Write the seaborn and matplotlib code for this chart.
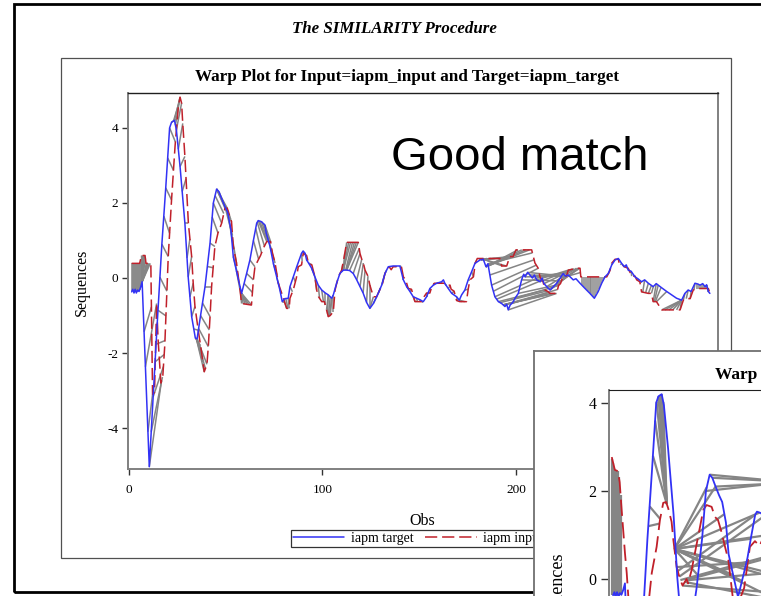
import numpy as np
import pandas as pd
import matplotlib
matplotlib.use("Agg")
import matplotlib.pyplot as plt
from matplotlib.collections import LineCollection
from matplotlib.patches import Rectangle
import seaborn as sns

# ---------------- data ----------------
target_obs = [1.4, 2.0, 2.6, 3.2, 3.8, 4.5, 5.2, 6.0, 6.8, 10.5, 14.5, 17.0, 19.0, 21.0, 22.0, 23.5, 24.5,
              26.4, 28.9, 30.6, 32.4, 34.3, 35.2, 37.0, 39.3, 41.9, 43.6, 45.3, 46.5, 48.0, 49.6, 51.0,
              52.7, 53.9, 55.5, 58.2, 60.8, 62.5, 64.3, 66.0, 66.8, 68.5, 70.3, 70.9, 72.9, 74.6, 76.3,
              78.0, 79.2, 80.5, 82.3, 83.2, 84.9, 86.7, 89.2, 90.0, 91.0, 91.8, 92.8, 94.4, 96.1, 97.8,
              99.6, 101.5, 103.0, 104.8, 105.6, 107.3, 109.0, 110.8, 112.5, 114.0, 115.9, 117.7, 119.4,
              121.0, 122.8, 124.5, 126.3, 128.8, 130.6, 132.3, 134.0, 136.5, 140.0, 141.8, 143.5, 145.2,
              146.9, 148.7, 150.4, 152.1, 153.8, 155.5, 157.3, 159.0, 161.6, 162.5, 163.3, 165.0, 166.8,
              169.3, 170.7, 171.9, 173.6, 175.3, 177.1, 178.8, 181.4, 183.1, 184.5, 185.5, 187.4, 189.1,
              190.9, 192.6, 194.3, 195.2, 196.0, 197.0, 197.8, 198.6, 199.5, 201.2, 202.9, 204.0, 204.7,
              206.0, 207.2, 208.5, 209.5, 210.7, 212.4, 213.5, 214.5, 215.9, 217.6, 219.0, 221.0, 222.7,
              224.4, 225.5, 227.0, 229.6, 231.0, 233.1, 235.7, 238.2, 240.5, 242.5, 244.3, 246.0, 247.7,
              249.5, 251.2, 252.9, 254.6, 256.0, 257.0, 258.0, 259.5, 261.5, 263.0, 264.9, 266.5, 268.4,
              270.9, 272.5, 273.5, 275.0, 277.9, 280.4, 283.0, 285.6, 287.3, 289.0, 290.5, 292.5, 294.0,
              295.1, 296.5, 297.7, 298.5, 299.4, 300.2]
target_val = [-0.37, -0.30, -0.40, -0.30, -0.40, -0.32, -0.36, -0.25, -0.10, -5.03, -1.30, 0.90, 2.40, 4.00,
              4.15, 4.20, 3.95, 2.97, 1.46, 0.03, -1.03, -1.60, -1.62, -1.00, -0.23, 0.93, 2.00, 2.37, 2.30,
              2.10, 1.90, 1.75, 1.28, 0.57, 0.20, -0.41, 0.12, 0.48, 1.00, 1.46, 1.53, 1.50, 1.41, 1.20,
              0.84, 0.39, 0.03, -0.32, -0.63, -0.55, -0.54, -0.23, 0.03, 0.30, 0.66, 0.72, 0.66, 0.48, 0.40,
              0.26, 0.03, -0.19, -0.32, -0.40, -0.45, -0.54, -0.45, -0.14, 0.12, 0.21, 0.21, 0.20, 0.12,
              -0.05, -0.23, -0.40, -0.65, -0.81, -0.68, -0.41, -0.19, 0.12, 0.30, 0.32, 0.32, -0.05, -0.23,
              -0.36, -0.50, -0.54, -0.58, -0.63, -0.50, -0.28, -0.19, -0.14, -0.10, -0.05, -0.15, -0.28,
              -0.41, -0.50, -0.59, -0.45, -0.32, -0.05, 0.17, 0.39, 0.48, 0.50, 0.30, 0.38, -0.19, -0.50,
              -0.63, -0.68, -0.76, -0.70, -0.85, -0.72, -0.68, -0.63, -0.54, -0.41, -0.05, 0.10, 0.03, 0.15,
              0.08, 0.00, 0.08, -0.05, -0.10, 0.00, -0.15, -0.23, -0.32, -0.25, -0.14, -0.01, 0.12, 0.05,
              0.08, -0.05, -0.02, -0.14, -0.28, -0.41, -0.54, -0.36, -0.14, 0.03, 0.12, 0.35, 0.48, 0.52,
              0.39, 0.30, 0.35, 0.21, 0.18, 0.03, -0.02, -0.10, -0.05, -0.14, -0.23, -0.15, -0.19, -0.25,
              -0.36, -0.45, -0.54, -0.59, -0.41, -0.32, -0.36, -0.14, -0.16, -0.19, -0.15, -0.23, -0.18,
              -0.36, -0.41]

input_obs = [1.4, 5.5, 6.5, 8.3, 8.8, 11.3, 12.2, 13.2, 14.3, 15.0, 16.5, 17.5, 18.5, 20.3, 22.0, 23.8,
             25.5, 26.4, 27.2, 27.7, 28.9, 29.8, 30.7, 32.4, 33.2, 34.1, 35.8, 37.6, 38.9, 40.3, 41.0,
             41.9, 42.7, 44.4, 46.0, 47.9, 49.6, 50.8, 52.2, 53.0, 53.9, 55.6, 57.4, 58.2, 63.3, 64.3,
             65.1, 66.5, 68.0, 69.5, 71.2, 73.2, 74.0, 75.5, 77.2, 79.2, 81.5, 82.8, 83.2, 85.0, 86.5,
             87.5, 89.2, 90.1, 91.8, 92.8, 94.5, 96.1, 97.0, 98.0, 99.6, 101.0, 102.1, 103.0, 104.0,
             105.6, 106.5, 108.2, 109.9, 111.0, 112.5, 118.5, 119.4, 120.3, 121.1, 122.0, 123.5, 124.5,
             126.3, 128.0, 129.7, 131.0, 132.3, 133.5, 134.5, 135.5, 136.5, 140.8, 141.8, 143.0, 144.3,
             146.0, 147.8, 151.3, 152.5, 153.8, 155.5, 156.5, 157.8, 163.0, 164.0, 165.9, 166.5, 168.0,
             169.3, 171.0, 174.4, 175.3, 176.2, 178.0, 179.0, 180.0, 191.7, 192.6, 195.2, 196.8, 198.5,
             200.0, 208.1, 209.0, 209.8, 211.5, 212.4, 214.0, 215.0, 216.5, 217.6, 221.0, 222.0, 223.0,
             224.4, 226.1, 227.0, 231.3, 233.1, 233.5, 246.9, 248.6, 249.4, 251.2, 252.9, 253.5, 255.0,
             256.0, 258.0, 259.8, 261.5, 262.4, 264.0, 264.9, 268.4, 270.0, 270.9, 272.6, 275.3, 284.8,
             286.5, 287.5, 290.0, 291.6, 293.0, 295.0, 299.4, 300.2]
input_val = [0.39, 0.39, 0.60, 0.60, 0.39, 0.39, -3.10, -3.05, -0.68, -1.60, -2.80, -2.60, -1.80, 0.57,
             2.08, 3.50, 4.57, 4.82, 4.66, 4.20, 3.24, 2.35, 1.46, 0.57, -0.14, -0.76, -1.39, -2.01, -2.50,
             -2.30, -1.83, -1.03, -0.23, 0.84, 1.20, 1.46, 1.86, 1.86, 1.63, 1.50, 0.84, 0.39, -0.32, -0.68,
             -0.72, -0.05, 0.30, 0.45, 0.60, 0.80, 0.97, 0.97, 0.70, 0.40, -0.14, -0.45, -0.81, -0.81,
             -0.54, -0.30, 0.00, 0.30, 0.35, 0.66, 0.60, 0.39, 0.35, 0.03, -0.32, -0.50, -0.63, -0.63,
             -0.85, -1.03, -1.00, -0.90, -0.32, 0.03, 0.21, 0.50, 0.95, 0.95, 0.65, 0.50, 0.40, 0.21, 0.05,
             -0.19, -0.50, -0.50, -0.30, -0.15, 0.12, 0.25, 0.30, 0.22, 0.30, 0.30, 0.03, -0.05, -0.28,
             -0.30, -0.63, -0.63, -0.50, -0.40, -0.40, -0.23, -0.14, -0.14, -0.20, -0.19, -0.30, -0.35,
             -0.60, -0.63, -0.63, -0.30, -0.05, 0.03, 0.40, 0.52, 0.52, 0.32, 0.32, 0.57, 0.57, 0.75, 0.75,
             0.57, 0.40, 0.26, 0.03, -0.10, -0.32, -0.36, -0.41, -0.41, -0.20, -0.15, 0.05, 0.05, 0.21,
             0.26, 0.26, 0.03, 0.03, 0.20, 0.39, 0.50, 0.50, 0.35, 0.35, 0.30, 0.26, 0.05, 0.05, -0.05,
             -0.10, -0.37, -0.41, -0.41, -0.63, -0.63, -0.85, -0.85, -0.59, -0.55, -0.55, -0.32, -0.30,
             -0.28, -0.28, -0.40]

# warping path of the good match: target obs -> input obs
warp_target = ([1.5, 2, 2.5, 3, 3.5, 4, 4.5, 5, 5.5, 6] + [6.8] * 10 +
               [7.8, 8.5, 9.8, 10.5, 11.5, 12.5, 13.5] +
               [14, 15, 16, 17, 18, 19, 20, 21, 22, 23, 23.5, 24] +
               [24.5, 25.5, 26.4, 27.5, 28.9, 30, 30.6, 31.5, 32.4, 33.5, 34.3, 34.8, 34.8, 34.8, 35.2, 35.2] +
               [36, 37, 38, 39.3, 40.5, 41.9, 43, 43.6, 44.5, 45.3, 45.3, 45.3, 45.3, 45.3] +
               [46.5, 48, 49.6, 51, 52.7, 53.9, 55.5, 57.4, 58.2, 58.2, 58.2, 58.2, 58.2] +
               [59.5, 60.8, 62.5, 64.3, 65.5, 66.3, 66.8, 67.5, 68.5, 69.5, 70.3] +
               [71, 72.9, 74.6, 76.3, 78, 79.2, 80, 81, 82.3] +
               [83.2, 84.9, 86.7, 89.2, 90, 91, 91.8] +
               [92.8, 94.4, 96.1, 97.8, 99.6, 101.5, 103, 103, 104, 104.8, 104.8] +
               [105.6, 107.3, 109, 110, 110.8, 110.8, 110.8, 110.8, 112, 112.5, 112.5, 112.5] +
               [114, 115.9, 117.7, 119.4, 121, 122.8, 124.5, 124.5, 126.3] +
               [128.8, 130.6, 132.3, 134, 136.5, 138, 140] +
               [141.8, 143.5, 145.2, 146.9, 148.7, 150.4, 152.1] +
               [153.8, 155.5, 157.3, 159, 161.6, 163.3, 165, 166.8, 169.3, 170.7, 170.7, 170.7] +
               [173.6, 175.3, 177.1, 178.8, 181.4] +
               [182, 182, 182, 182, 182, 183.1, 183.1, 183.1, 184.5, 184.5, 184.5, 184.5, 184.5,
                185.5, 186.5, 187.4, 188.3, 189.1, 190, 190.9, 191.8, 193.4, 193.4, 193.4, 193.4,
                196, 197.8, 199.5, 201.2, 202.9, 204.7, 206, 207.2, 209, 210.7, 212.4, 214.5, 215.9,
                217.6, 219, 221, 222.7] +
               [234, 235, 236, 237, 238, 239, 240, 241, 242, 243, 244, 245, 246] +
               [247.7, 248.6, 249.5, 251.2, 252.9] +
               [254.6, 256, 257, 258, 259.5, 261.5, 263, 264.9, 266.5, 268.4, 270, 271, 272.5, 273.5, 275, 277.9] +
               [285.6] * 6 +
               [287.3, 289, 290.5, 292.5, 293.5, 294.5, 295.5, 296.5, 297.5, 298.5, 299.4])
warp_input = ([1.5, 2, 2.5, 3, 3.5, 4, 4.5, 5, 5.5, 6] + [6.5, 7, 7.5, 8, 8.5, 9, 9.5, 10, 10.5, 11] +
              [11.6, 14.3, 12.2, 16.8, 17.3, 17.8, 18.2] +
              [18.6, 19.1, 19.6, 20.3, 21, 22, 23, 24, 25, 25.8, 26.4, 26.4] +
              [27.2, 27.8, 28.9, 29.5, 30.7, 31.5, 32.4, 33.2, 34.1, 35.8, 37.0, 37.6, 38.2, 38.9, 39.5, 40.3] +
              [41, 41.5, 41.9, 42.7, 43.5, 44.4, 46, 47.9, 49, 49.6, 50.2, 50.8, 51.5, 52.2] +
              [52.6, 53, 53.5, 54.2, 55.6, 56.5, 57.4, 58.2, 59, 60, 61, 62, 63.3] +
              [63.8, 64.3, 65.1, 67, 68.5, 70, 71.2, 71.6, 72, 72.6, 73.2] +
              [74, 75.5, 76.5, 77.5, 79, 80.5, 81.5, 82.2, 82.8] +
              [84.5, 86, 87.5, 89.5, 90.1, 91.2, 92.5] +
              [94.5, 96.1, 97, 98.5, 100.5, 101.5, 102.1, 102.6, 103, 103.5, 104] +
              [105.6, 107.5, 109, 110.5, 111.5, 112.5, 113.5, 114.5, 115.5, 116.5, 117.5, 118.5] +
              [119, 119.4, 120.3, 121.1, 122, 123.5, 124.5, 126.3, 128] +
              [130, 132.3, 133.1, 134.5, 136.5, 138, 140.8] +
              [141.8, 144.3, 146, 147.8, 149, 150.3, 151.3] +
              [153.8, 156, 157.8, 159.5, 161.5, 164, 166, 168, 170, 171, 172, 173.5] +
              [175.3, 176.2, 178, 179.5, 181] +
              [183, 185, 187, 189, 191, 193, 195, 197, 199, 201, 203, 205, 207,
               208.5, 209.4, 210.5, 211.5, 212.4, 213.5, 215, 216, 217, 218, 219, 220,
               221, 221.5, 222, 222.6, 223.5, 224.4, 225.2, 226.1, 226.6, 227.5, 229, 230, 231.3,
               232, 232.5, 233, 233.3] +
              [234, 235, 236, 237, 238, 239, 240, 241, 242, 243, 244, 245, 246] +
              [248, 248.6, 249.4, 251.2, 252.5] +
              [254, 255.5, 257, 258.5, 259.8, 261.5, 262.4, 264, 265.5, 267, 268.4, 270, 270.9, 271.5, 272, 272.6] +
              [275.3, 277, 279, 281, 283, 284.8] +
              [286.5, 288, 290, 292, 293.5, 294.5, 295.5, 296.5, 297.5, 298.5, 299.4])

# second (bad match) chart: same target, other input
bad_input_obs = [0.8, 2.2, 3.6, 4.4, 5.3, 6.8, 7.6, 9.0, 11.0, 14.0, 17.0, 19.0, 21.2, 22.7, 24.2, 25.5,
                 26.5, 28.0, 28.8, 30.3, 31.8, 33.0, 34.8, 35.5, 37.1, 38.6, 40.9, 42.4, 43.9, 46.2, 47.7,
                 49.1, 50.5, 52.3, 53.8, 54.5, 56.0, 58.0, 61.0, 63.6, 65.9, 68.0, 72.0, 80.0, 90.0]
bad_input_val = [2.77, 2.48, 2.45, 2.20, 1.57, 0.59, 0.14, -0.90, -2.00, -2.00, -0.80, 0.14, 0.73, 1.34,
                 1.73, 1.75, 1.60, 1.30, 0.89, 0.27, 0.00, -0.15, 0.00, -0.10, 0.20, 0.59, 1.18, 1.57, 1.68,
                 1.64, 1.41, 1.34, 1.10, 0.73, 0.43, 0.14, -0.50, -0.60, -0.20, 0.73, 0.86, 0.75, 1.20, 2.20,
                 2.20]
bad_warp_target = [1, 1.5, 2, 2.5, 3, 3.5, 4, 4.8, 17.4, 18, 19.5, 20.5, 21.2, 22, 22.7, 23.5, 24.2,
                   40, 44, 48, 52, 56, 60, 64, 68, 72, 76, 80, 84,
                   43.6, 45.3, 46.5, 48,
                   62, 66, 70, 74, 78, 82, 86, 90]
bad_warp_input = [1, 1.5, 2, 2.5, 3, 3.5, 4, 4.8, 22.5, 22.8, 25.8, 25.8, 25.8, 25.8, 25.8, 25.8, 25.8,
                  29.3, 29.3, 29.3, 29.3, 29.3, 29.3, 29.3, 29.3, 29.3, 29.3, 29.3, 29.3,
                  80, 82, 85, 88,
                  30.3, 30.8, 31.5, 32, 33, 34, 35, 36]

x_ticks = [0, 100, 200, 300]
y_ticks = [-4, -2, 0, 2, 4]
inset_y_ticks = [0, 2, 4]

# ---------------- styling ----------------
W, H = 761, 596
sns.set_style("white")
plt.rcParams["font.family"] = ["Liberation Serif", "DejaVu Serif"]
plt.rcParams["axes.unicode_minus"] = False
plt.rcParams["text.color"] = "black"
plt.rcParams["axes.labelcolor"] = "black"
BLUE = "#3232f5"
RED = "#c0202a"
GREY = "#858585"


def fx(x):
    return x / W


def fy(y):
    return 1 - y / H


fig = plt.figure(figsize=(W / 100, H / 100), dpi=100)
fig.patch.set_facecolor("white")

# outer page frame and inner graph frame
fig.add_artist(Rectangle((fx(13.5), fy(592)), fx(900), fy(4) - fy(592), transform=fig.transFigure,
                         fill=False, edgecolor="black", lw=2.0, zorder=-2))
fig.add_artist(Rectangle((fx(60.5), fy(557.5)), fx(670), fy(57.5) - fy(557.5), transform=fig.transFigure,
                         fill=False, edgecolor="#505050", lw=0.9, zorder=-2))

fig.text(fx(394), fy(29), "The SIMILARITY Procedure", ha="center", va="center",
         fontsize=12.2, fontweight="bold", fontstyle="italic")
fig.text(fx(407), fy(77), "Warp Plot for Input=iapm_input and Target=iapm_target", ha="center",
         va="center", fontsize=12.3, fontweight="bold")


def draw_warp(ax, t_obs, t_val, i_obs, i_val, wt, wi, lw):
    ty = np.interp(wt, t_obs, t_val)
    iy = np.interp(wi, i_obs, i_val)
    segs = [[(a, b), (c, d)] for a, b, c, d in zip(wt, ty, wi, iy)]
    ax.add_collection(LineCollection(segs, colors=GREY, linewidths=lw, zorder=1))


# ---------------- main chart ----------------
ax = fig.add_axes([fx(128), fy(469), fx(718) - fx(128), fy(93) - fy(469)])
draw_warp(ax, target_obs, target_val, input_obs, input_val, warp_target, warp_input, 1.1)
sns.lineplot(x=target_obs, y=target_val, ax=ax, color=BLUE, lw=1.1, sort=False, estimator=None,
             label="iapm target", zorder=3)
sns.lineplot(x=input_obs, y=input_val, ax=ax, color=RED, lw=1.1, sort=False, estimator=None,
             label="iapm input", zorder=2, linestyle=(0, (8, 3.2)))
ax.set_xlim(-0.5, 304.4)
ax.set_ylim(-5.09, 4.93)
ax.set_xticks(x_ticks)
ax.set_yticks(y_ticks)
ax.tick_params(axis="both", which="both", direction="out", length=4, width=1, colors="#333333",
               labelsize=9.5, labelcolor="black", left=True, bottom=True)
ax.tick_params(axis="x", pad=7)
ax.tick_params(axis="y", pad=3)
for side in ["left", "bottom", "right"]:
    ax.spines[side].set_color("#808080")
    ax.spines[side].set_linewidth(1.4)
ax.spines["top"].set_color("#202020")
ax.spines["top"].set_linewidth(1.0)
ax.set_xlabel("Obs", fontsize=11.5)
ax.set_ylabel("Sequences", fontsize=11.5)
ax.xaxis.set_label_coords((422 - 128) / 590, -(513 - 469) / 376)
ax.yaxis.set_label_coords(-(128 - 90) / 590, (469 - 282) / 376)
leg = ax.legend(loc="upper left", bbox_to_anchor=(fx(291), fy(530)), bbox_transform=fig.transFigure,
                ncol=2, frameon=True, fancybox=False, fontsize=10, handlelength=3.7,
                handletextpad=0.5, columnspacing=0.8, borderpad=0.15, borderaxespad=0)
leg.get_frame().set_edgecolor("black")
leg.get_frame().set_linewidth(0.9)

fig.text(fx(520), fy(158), "Good match", ha="center", va="center", fontsize=34, color="black",
         family=["Liberation Sans", "DejaVu Sans"])

# ---------------- overlaid second screenshot ----------------
frame = fig.add_axes([fx(533.5), fy(1000), 1.0, fy(350.5) - fy(1000)])
frame.set_xticks([])
frame.set_yticks([])
frame.set_facecolor("white")
for s in frame.spines.values():
    s.set_color("#707070")
    s.set_linewidth(1.3)

ins_w = 305 * 2.2
ins_h = 440
ax2 = fig.add_axes([fx(609), fy(390 + ins_h), ins_w / W, ins_h / H])
draw_warp(ax2, target_obs, target_val, bad_input_obs, bad_input_val, bad_warp_target, bad_warp_input, 1.6)
sns.lineplot(x=target_obs, y=target_val, ax=ax2, color=BLUE, lw=1.3, sort=False, estimator=None, zorder=3)
sns.lineplot(x=bad_input_obs, y=bad_input_val, ax=ax2, color=RED, lw=1.3, sort=False, estimator=None,
             zorder=2, linestyle=(0, (9, 3.5)))
ax2.set_xlim(-0.45, 304.55)
ax2.set_ylim(-5.705, 4.295)
ax2.set_yticks(inset_y_ticks)
ax2.set_xticks([])
ax2.tick_params(axis="y", direction="out", length=6, width=1, colors="#333333", labelsize=11.5,
                labelcolor="black", pad=3, left=True)
for side in ["left", "bottom", "right"]:
    ax2.spines[side].set_color("#808080")
    ax2.spines[side].set_linewidth(1.4)
ax2.spines["top"].set_color("#202020")
ax2.set_ylabel("Sequences", fontsize=13)
ax2.yaxis.set_label_coords(-(609 - 566) / ins_w, (390 + ins_h - 590) / ins_h)
fig.text(fx(715), fy(375), "Warp Plot for Input=iapm_input and Target=iapm_target", ha="left",
         va="center", fontsize=12.5, fontweight="bold")

fig.savefig("out.png", dpi=100)
